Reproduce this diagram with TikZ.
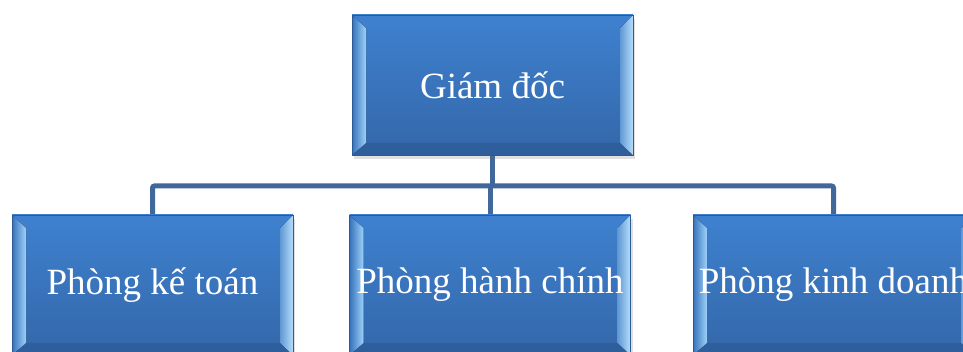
\documentclass[tikz,border=0pt]{standalone}
\usepackage{fontspec}
\setmainfont{Liberation Serif}
\usetikzlibrary{calc,shadows}

\definecolor{faceTop}{HTML}{3E81CF}
\definecolor{faceBot}{HTML}{3467A9}
\definecolor{edge}{HTML}{2B5A94}
\definecolor{bevOut}{HTML}{3772BA}
\definecolor{bevIn}{HTML}{9ED2FA}
\definecolor{bevTop}{HTML}{3E80CE}
\definecolor{bevBot}{HTML}{2F5E9C}
\definecolor{conn}{HTML}{40689A}

\tikzset{
  orgbox/.style={
    minimum width=281pt, minimum height=140pt, inner sep=0pt,
    draw=edge, line width=0.6pt,
    top color=faceTop, bottom color=faceBot,
    text=white, font=\fontsize{37}{44}\selectfont,
    drop shadow={shadow xshift=2pt, shadow yshift=-4pt, opacity=0.2, fill=black!60},
    path picture={
      \coordinate (nw) at (path picture bounding box.north west);
      \coordinate (ne) at (path picture bounding box.north east);
      \coordinate (sw) at (path picture bounding box.south west);
      \coordinate (se) at (path picture bounding box.south east);
      \coordinate (inw) at ($(nw)+(14,13)$);
      \coordinate (ine) at ($(ne)+(-13,13)$);
      \coordinate (isw) at ($(sw)+(14,-12)$);
      \coordinate (ise) at ($(se)+(-13,-12)$);
      % top and bottom facets
      \fill[bevTop] (nw) -- (ne) -- (ine) -- (inw) -- cycle;
      \fill[bevBot] (sw) -- (se) -- (ise) -- (isw) -- cycle;
      % left facet: dark at the rim, light towards the face
      \fill[left color=bevOut, right color=bevIn] (nw) -- (inw) -- (isw) -- (sw) -- cycle;
      % right facet: light at the rim
      \fill[left color=bevOut!60!bevIn, right color=bevIn!75!white] (ne) -- (ine) -- (ise) -- (se) -- cycle;
    }
  },
  connector/.style={draw=conn, line width=5pt, rounded corners=2pt}
}

\begin{document}
\begin{tikzpicture}[x=1pt, y=-1pt]
  \useasboundingbox (0,0) rectangle (963,352);
  \clip (0,0) rectangle (963,352);

  % connectors
  \coordinate (jtop) at (492.5,186);
  \coordinate (jl) at (152.5,186);
  \coordinate (jr) at (833.5,186);
  \coordinate (topbase) at (492.5,150);
  \coordinate (b1top) at (152.5,220);
  \coordinate (b2top) at (490,220);
  \coordinate (b3top) at (833.5,220);
  \draw[connector] (topbase) -- (jtop);
  \draw[connector] (b1top) -- (jl) -- (jr) -- (b3top);
  \draw[connector] (b2top) -- (490,186);

  % boxes
  \node[orgbox] (top) at (492.5,85) {Giám đốc};
  \node[orgbox] (b1) at (152.5,285) {Phòng kế toán};
  \node[orgbox] (b2) at (490,285) {Phòng hành chính};
  \node[orgbox] (b3) at (833.5,285) {Phòng kinh doanh};
\end{tikzpicture}
\end{document}
